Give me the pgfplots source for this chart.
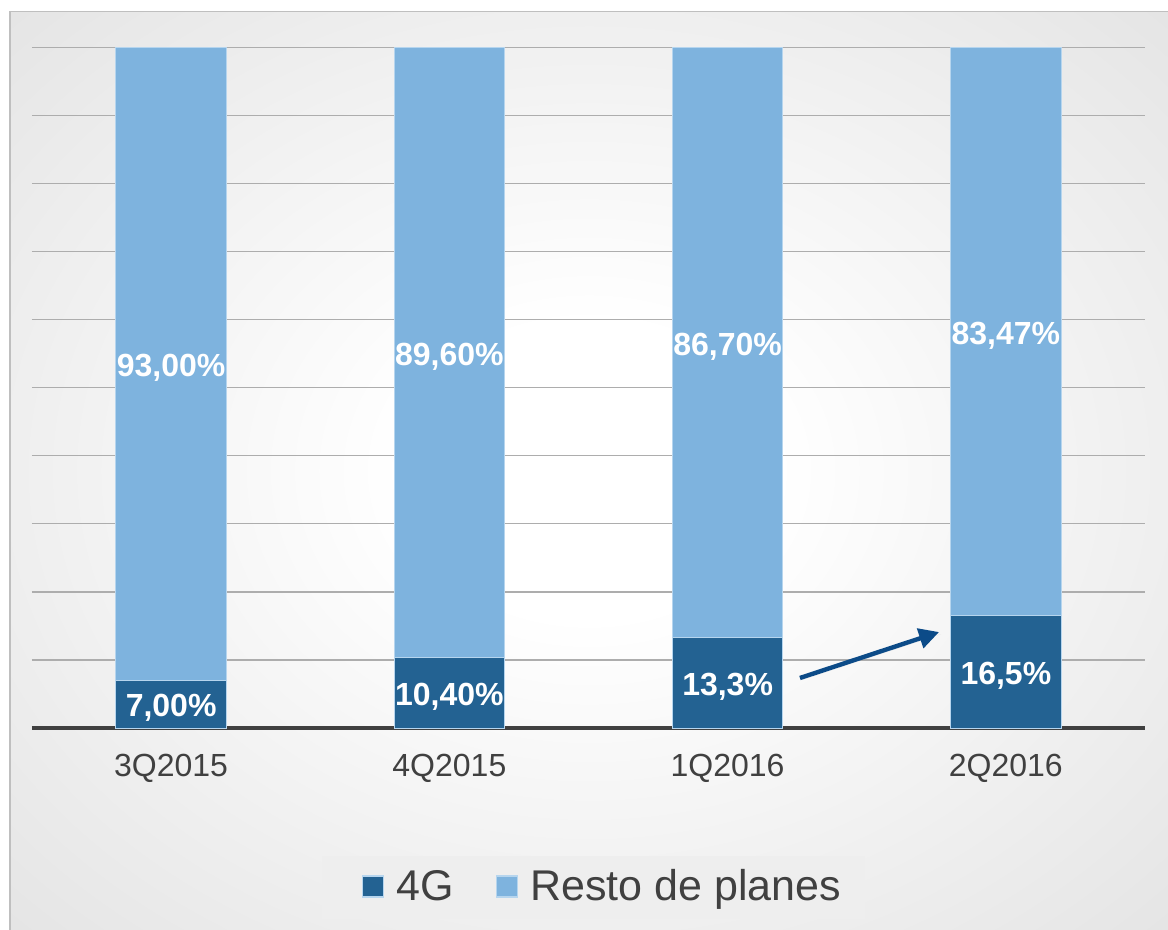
\documentclass[border=0pt]{standalone}
\usepackage{fontspec}
\setmainfont{Liberation Sans}
\usepackage{pgfplots}
\usepackage{pgfplotstable}
\pgfplotsset{compat=1.18}
\usetikzlibrary{arrows.meta,shadows}
\definecolor{dark}{HTML}{236292}
\definecolor{light}{HTML}{7EB3DE}
\definecolor{edgec}{HTML}{B6D5EE}
\definecolor{txt}{HTML}{404040}
\definecolor{arrowc}{HTML}{0C4B88}
\definecolor{legbg}{HTML}{EEEEEE}
\pgfdeclareradialshading{bgshade}{\pgfpoint{0bp}{0bp}}{color(0bp)=(white); color(8bp)=(white); color(72bp)=(black!24)}

\pgfplotstableread{
x y lab
0 7     7,00
1 10.4  10,40
2 13.3  13,3
3 16.5  16,5
}\fourg
\pgfplotstableread{
x y lab
0 93    93,00
1 89.6  89,60
2 86.7  86,70
3 83.47 83,47
}\resto

\begin{document}
\begin{tikzpicture}
\path[use as bounding box] (0,0) rectangle (584pt,-465pt);
\shade[shading=bgshade] (5pt,-5.75pt) rectangle (584pt,-465pt);
\draw[black!25, line width=0.6pt] (5pt,-465pt) -- (5pt,-5.75pt) -- (584pt,-5.75pt);
\fill[legbg] (161pt,-428pt) rectangle (432.5pt,-459.5pt);
\begin{axis}[
  at={(16pt,-364pt)}, anchor=south west,
  scale only axis, width=556.5pt, height=340.25pt,
  ybar stacked, bar width=55.25pt,
  xmin=-0.5, xmax=3.5, ymin=0, ymax=100,
  xtick={0,1,2,3}, xticklabels={3Q2015,4Q2015,1Q2016,2Q2016},
  ytick={10,20,...,100}, yticklabels={},
  ymajorgrids, y grid style={black!32, line width=0.6pt},
  major tick length=0pt,
  axis line style={draw=none},
  clip=false,
  xticklabel style={font=\fontsize{16}{16}\selectfont, text=txt, anchor=north, inner sep=0pt, yshift=-13pt},
  nodes near coords={\pgfplotspointmeta\%},
  point meta=explicit symbolic,
  every node near coord/.append style={anchor=center, text=white,
     font=\bfseries\fontsize{16}{16}\selectfont, yshift=-2pt},
  legend style={at={(0.5135,-0.233)}, anchor=center, draw=none, fill=none,
     font=\fontsize{21.5}{21.5}\selectfont, text=txt,
     inner xsep=0pt, inner ysep=4pt,
     /tikz/every odd column/.append style={column sep=4.3pt},
     /tikz/every even column/.append style={column sep=18.7pt}},
  legend columns=2,
  legend image code/.code={\filldraw[#1, draw=edgec, line width=0.6pt] (0pt,-5.25pt) rectangle (10.5pt,5.25pt);},
]
\addplot[fill=dark, draw=edgec, line width=0.5pt] table[x=x, y=y, meta=lab] {\fourg};
\addplot[fill=light, draw=edgec, line width=0.5pt] table[x=x, y=y, meta=lab] {\resto};
\legend{4G, Resto de planes}
\draw[txt, line width=2pt] (rel axis cs:0,0) -- (rel axis cs:1,0);
\draw[arrowc, line width=2.2pt, -{Triangle[length=10pt, width=10pt]},
  drop shadow={opacity=0.25, shadow xshift=1pt, shadow yshift=-1pt}]
  (axis cs:2.26,7.35) -- (axis cs:2.76,14.1);
\end{axis}
\end{tikzpicture}
\end{document}
